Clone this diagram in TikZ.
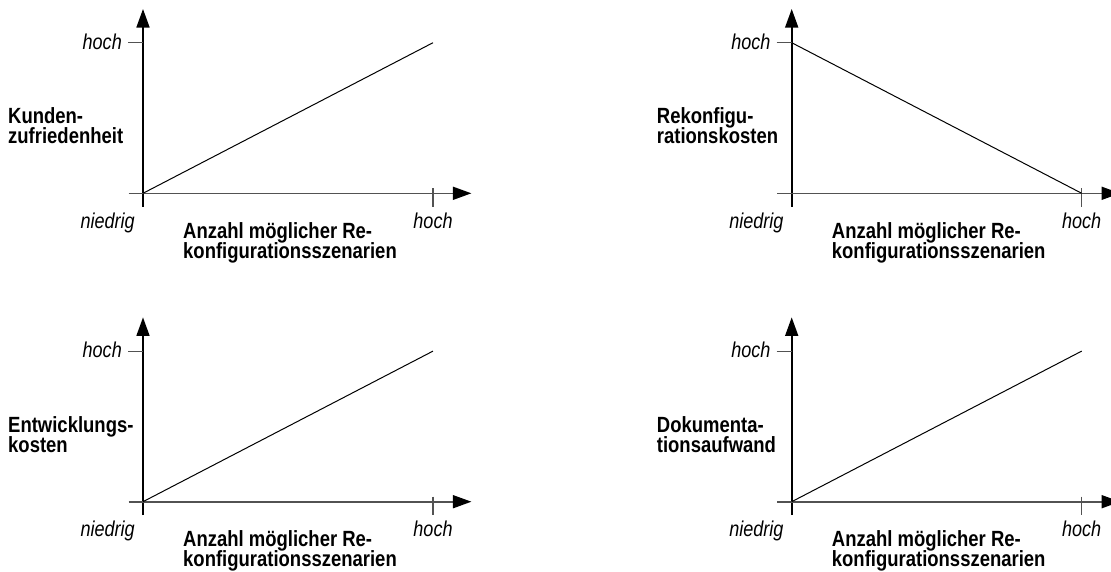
\documentclass[tikz,border=0pt]{standalone}
\usepackage{fontspec}
\usetikzlibrary{arrows.meta}
\newfontfamily\labfont{Liberation Sans}[FakeStretch=0.84]

\tikzset{
  yaxis/.style={line width=1.6pt, black, -{Triangle[length=18.5pt,width=13pt]}},
  xaxis/.style={line width=1.6pt, black!68, -{Triangle[length=18.5pt,width=13pt,color=black]}},
  tickline/.style={line width=1.1pt, black!68},
  curve/.style={line width=1pt, black},
  bld/.style={inner sep=0pt, anchor=base west, font=\labfont\bfseries\fontsize{22}{20}\selectfont},
  ital/.style={inner sep=0pt, font=\labfont\itshape\fontsize{21.5}{24}\selectfont},
}

% #1,#2: origin; #3: name prefix; #4,#5: the two lines of the quantity label;
% #6,#7: start and end of the trend line
\newcommand\drawpanel[7]{%
  \begin{scope}[shift={(#1,#2)}]
    \coordinate (#3o)   at (0,0);
    \coordinate (#3yb)  at (0,13.4);
    \coordinate (#3yt)  at (0,-184.3);
    \coordinate (#3xl)  at (-14.3,0);
    \coordinate (#3xr)  at (328.4,0);
    \coordinate (#3hy)  at (0,-150.6);
    \coordinate (#3hyl) at (-15,-150.6);
    \coordinate (#3hx)  at (290,0);
    \coordinate (#3hxt) at (290,-5);
    \coordinate (#3hxb) at (290,13.4);
    \coordinate (#3end) at (290,-150.6);
    \draw[yaxis] (#3yb) -- (#3yt);
    \draw[xaxis] (#3xl) -- (#3xr);
    \draw[tickline] (#3hyl) -- (#3hy);
    \draw[tickline] (#3hxt) -- (#3hxb);
    \draw[curve] (#3#6) -- (#3#7);
    \node[ital, anchor=base east] (#3hyt) at (-21,-144.3) {hoch};
    \node[ital, anchor=base east] (#3low) at (-8,34.7) {niedrig};
    \node[ital, anchor=base] (#3hxl) at (290,34.7) {hoch};
    \node[bld] (#3xa) at (40,45) {Anzahl möglicher Re-};
    \node[bld] (#3xb) at (40,65) {konfigurationsszenarien};
    \node[bld] (#3ya) at (-135,-69.5) {#4};
    \node[bld] (#3yb) at (-135,-49.5) {#5};
  \end{scope}}

\begin{document}
\begin{tikzpicture}[x=1pt,y=-1pt]
  \useasboundingbox[fill=white] (0,0) rectangle (1111,571);
  \drawpanel{143}{193.3}{tl}{Kunden-}{zufriedenheit}{o}{end}
  \drawpanel{791.7}{193.3}{tr}{Rekonfigu-}{rationskosten}{hy}{hx}
  \drawpanel{143}{501.7}{bl}{Entwicklungs-}{kosten}{o}{end}
  \drawpanel{791.7}{501.7}{br}{Dokumenta-}{tionsaufwand}{o}{end}
\end{tikzpicture}
\end{document}
